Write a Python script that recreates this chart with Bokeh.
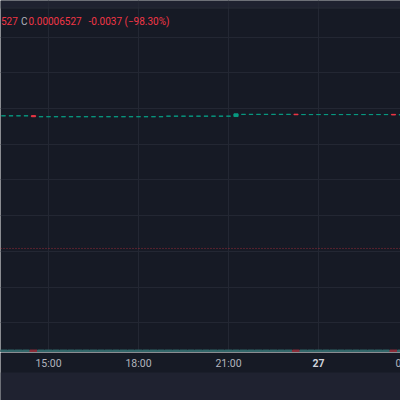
from bokeh.plotting import figure
from bokeh.layouts import column
from bokeh.models import FixedTicker, Span, BoxAnnotation, Range1d, ColumnDataSource
from bokeh.core.properties import value
from bokeh.embed import file_html
from bokeh.resources import INLINE

# ---------------- data (prices in units of 1e-5) ----------------
times = ["13:30", "13:45", "14:00", "14:15", "14:30", "14:45", "15:00", "15:15",
         "15:30", "15:45", "16:00", "16:15", "16:30", "16:45", "17:00", "17:15",
         "17:30", "17:45", "18:00", "18:15", "18:30", "18:45", "19:00", "19:15",
         "19:30", "19:45", "20:00", "20:15", "20:30", "20:45", "21:00", "21:15",
         "21:30", "21:45", "22:00", "22:15", "22:30", "22:45", "23:00", "23:15",
         "23:30", "23:45", "00:00", "00:15", "00:30", "00:45", "01:00", "01:15",
         "01:30", "01:45", "02:00", "02:15", "02:30", "02:45"]
opens = [6.5259, 6.5259, 6.5259, 6.5259, 6.5260, 6.5254, 6.5254, 6.5254,
         6.5254, 6.5254, 6.5254, 6.5254, 6.5254, 6.5254, 6.5254, 6.5254,
         6.5254, 6.5254, 6.5254, 6.5254, 6.5254, 6.5254, 6.5257, 6.5257,
         6.5257, 6.5257, 6.5257, 6.5257, 6.5257, 6.5257, 6.5257, 6.5255,
         6.5267, 6.5267, 6.5267, 6.5267, 6.5267, 6.5267, 6.5267, 6.5268,
         6.5266, 6.5266, 6.5266, 6.5266, 6.5266, 6.5266, 6.5266, 6.5266,
         6.5266, 6.5266, 6.5266, 6.5266, 6.5267, 6.5265]
closes = [6.5259, 6.5259, 6.5259, 6.5259, 6.5254, 6.5254, 6.5254, 6.5254,
          6.5254, 6.5254, 6.5254, 6.5254, 6.5254, 6.5254, 6.5254, 6.5254,
          6.5254, 6.5254, 6.5254, 6.5254, 6.5254, 6.5254, 6.5257, 6.5257,
          6.5257, 6.5257, 6.5257, 6.5257, 6.5257, 6.5257, 6.5257, 6.5270,
          6.5267, 6.5267, 6.5267, 6.5267, 6.5267, 6.5267, 6.5267, 6.5265,
          6.5266, 6.5266, 6.5266, 6.5266, 6.5266, 6.5266, 6.5266, 6.5266,
          6.5266, 6.5266, 6.5266, 6.5266, 6.5264, 6.5265]
volumes = [0.7, 0.7, 0.7, 0.7, 0.7, 0.7, 0.7, 0.7, 0.7, 0.7, 0.7, 0.7, 0.7, 0.7,
           0.7, 0.7, 0.7, 0.7, 0.7, 0.7, 0.7, 0.7, 0.7, 0.7, 0.7, 0.7, 0.7, 0.7,
           0.7, 0.7, 0.7, 0.7, 0.7, 0.7, 0.7, 0.7, 0.7, 0.7, 0.7, 0.7, 0.7, 0.7,
           0.7, 0.7, 0.7, 0.7, 0.7, 0.7, 0.7, 0.7, 0.7, 0.7, 0.7, 0.7]
price_line = 6.4516
price_grid = [6.41, 6.43, 6.45, 6.47, 6.49, 6.51, 6.53, 6.55, 6.57]
tick_hours = [15, 18, 21, 24, 27]
tick_labels = ["15:00", "18:00", "21:00", "27", "03:00"]
tick_bold = [False, False, False, True, False]
legend_texts = ["527", "C", "0.00006527", "-0.0037 (\u221298.30%)"]

# ---------------- style ----------------
BG = "#161a25"
STRIP = "#1f2230"
GRID = "#232733"
GREEN = "#089981"
RED = "#f23645"
VOL_G = "#33676a"
VOL_R = "#8a2e3a"
TXT = "#b2b5be"
FONT = "Roboto"
FS = "10.5px"
LFS = "10px"

X0, X1 = 13.4, 13.4 + 400 / 30.0
def py(ref_y):
    return 6.53 - (ref_y - 108) / 35.7 * 0.02
def hx(ref_x):
    return X0 + ref_x / 30.0

def to_hour(t):
    h, m = t.split(":")
    v = int(h) + int(m) / 60.0
    return v + 24 if v < 12 else v

hours = [to_hour(t) for t in times]
tops = [max(o, c) for o, c in zip(opens, closes)]
bots = [min(o, c) for o, c in zip(opens, closes)]
cols = [RED if c < o else GREEN for o, c in zip(opens, closes)]
vcols = [VOL_R if c < o else VOL_G for o, c in zip(opens, closes)]
src = ColumnDataSource(dict(x=hours, top=tops, bottom=bots, color=cols,
                            vol=volumes, vcolor=vcols))

W = 400
xr = Range1d(X0, X1)
p = figure(width=W, height=352, x_range=xr, y_range=Range1d(py(352), py(0)),
           output_backend="svg", toolbar_location=None,
           background_fill_color=BG, border_fill_color=BG,
           min_border=0, outline_line_color=None)
p.xaxis.visible = False
p.yaxis.visible = False
p.xgrid.ticker = FixedTicker(ticks=tick_hours)
p.ygrid.ticker = FixedTicker(ticks=price_grid)
p.xgrid.grid_line_color = GRID
p.ygrid.grid_line_color = GRID

p.add_layout(BoxAnnotation(bottom=py(7), fill_color=STRIP, fill_alpha=1,
                           line_color=None, level="image"))
p.add_layout(Span(location=py(7.5), dimension="width", line_color="#282c38",
                  line_width=1))

p.extra_y_ranges = {"vol": Range1d(0, 100)}
p.vbar(x="x", top="vol", bottom=0, width=0.235, color="vcolor", source=src,
       y_range_name="vol")

p.vbar(x="x", top="top", bottom="bottom", width=0.14, fill_color="color",
       line_color="color", line_width=1, source=src)

p.add_layout(Span(location=price_line, dimension="width", line_color=RED,
                  line_alpha=0.6, line_width=1, line_dash="1 2"))

# legend text
lx = [hx(0.5), hx(20.5), hx(28), hx(88)]
lcol = [RED, TXT, RED, RED]
p.text(x=lx, y=[py(20.5)] * 4, text=legend_texts, text_color=lcol,
       text_font=value(FONT), text_font_size=value(LFS),
       text_baseline="middle", text_align="left")

# bottom time axis strip
b = figure(width=W, height=48, x_range=xr, y_range=Range1d(0, 48),
           output_backend="svg", toolbar_location=None,
           background_fill_color=BG, border_fill_color=BG,
           min_border=0, outline_line_color=None)
b.axis.visible = False
b.grid.visible = False
b.add_layout(BoxAnnotation(top=28, fill_color=STRIP, fill_alpha=1,
                           line_color=None, level="image"))
nx = [h for h, bo in zip(tick_hours, tick_bold) if not bo]
nt = [t for t, bo in zip(tick_labels, tick_bold) if not bo]
bx = [h for h, bo in zip(tick_hours, tick_bold) if bo]
bt = [t for t, bo in zip(tick_labels, tick_bold) if bo]
b.text(x=nx, y=[48 - 10.5] * len(nx), text=nt, text_color=TXT,
       text_font=value(FONT), text_font_size=value(FS),
       text_align="center", text_baseline="middle")
b.text(x=bx, y=[48 - 10.5] * len(bx), text=bt, text_color="#d1d4dc",
       text_font=value(FONT), text_font_size=value(FS),
       text_font_style="bold", text_align="center", text_baseline="middle")

layout = column(p, b, spacing=0)
open("out.html", "w").write(file_html(layout, INLINE))
